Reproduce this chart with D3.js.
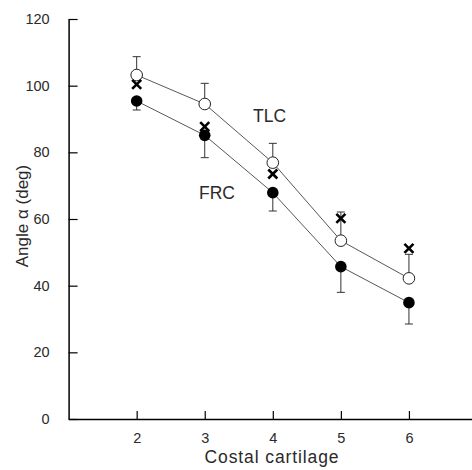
<!DOCTYPE html>
<html><head><meta charset="utf-8">
<script src="https://cdn.jsdelivr.net/npm/d3@7"></script>
<style>body{margin:0;background:#fff}svg{display:block}text{font-family:"Liberation Sans",Arial,sans-serif;fill:#2a2a2a;font-weight:normal}</style>
</head><body><svg id="c" width="472" height="470"></svg>
<script>
const cartilage = [2, 3, 4, 5, 6];
const tlc = [103.2, 94.5, 76.9, 53.5, 42.2];
const tlcErr = [5.5, 6.2, 5.8, 8.6, 7.2];
const frc = [95.4, 85.1, 67.9, 45.7, 34.9];
const frcErr = [2.7, 6.7, 5.5, 7.7, 6.4];
const crosses = [100.4, 87.7, 73.5, 60.2, 51.2];
const yTicks = [0, 20, 40, 60, 80, 100, 120];
const xTicks = [2, 3, 4, 5, 6];

const svg = d3.select("#c");
const x = d3.scaleLinear().domain([1, 7]).range([68.6, 477]);
const y = d3.scaleLinear().domain([0, 120]).range([419, 19]);

// axes
const ya = svg.append("g").attr("transform", `translate(${x(1)},0)`)
  .call(d3.axisLeft(y).tickValues(yTicks).tickFormat(d3.format("d")).tickSizeInner(-9).tickSizeOuter(0).tickPadding(19));
ya.select(".domain").attr("stroke", "#000").attr("stroke-width", 1.5);
ya.selectAll(".tick line").attr("stroke", "#000").attr("stroke-width", 1.2);
ya.selectAll("text").style("font-size", "14.5px");

const xa = svg.append("g").attr("transform", `translate(0,${y(0)})`)
  .call(d3.axisBottom(x).tickValues(xTicks).tickFormat(d3.format("d")).tickSizeInner(-8).tickSizeOuter(0).tickPadding(14));
xa.select(".domain").attr("stroke", "#000").attr("stroke-width", 1.5);
xa.selectAll(".tick line").attr("stroke", "#000").attr("stroke-width", 1.2);
xa.selectAll("text").style("font-size", "14.5px");

svg.append("text").attr("x", 272).attr("y", 463).attr("text-anchor", "middle")
  .style("font-size", "17.5px").style("letter-spacing", "0.9px").text("Costal cartilage");
svg.append("text").attr("transform", `translate(28,216) rotate(-90)`).attr("text-anchor", "middle")
  .style("font-size", "17px").text("Angle α (deg)");

const line = d3.line().x((d, i) => x(cartilage[i])).y(d => y(d));
svg.append("path").datum(tlc).attr("d", line).attr("fill", "none").attr("stroke", "#444").attr("stroke-width", 0.9);
svg.append("path").datum(frc).attr("d", line).attr("fill", "none").attr("stroke", "#444").attr("stroke-width", 0.9);

// error bars
function errBars(vals, errs, dir) {
  const g = svg.append("g").attr("stroke", "#333").attr("stroke-width", 1);
  vals.forEach((v, i) => {
    const cx = x(cartilage[i]);
    const end = v + dir * errs[i];
    g.append("line").attr("x1", cx).attr("x2", cx).attr("y1", y(v)).attr("y2", y(end));
    g.append("line").attr("x1", cx - 4).attr("x2", cx + 4).attr("y1", y(end)).attr("y2", y(end));
  });
}
errBars(tlc, tlcErr, 1);
errBars(frc, frcErr, -1);

svg.append("g").selectAll("circle").data(frc).join("circle")
  .attr("cx", (d, i) => x(cartilage[i])).attr("cy", d => y(d)).attr("r", 5.8).attr("fill", "#000");
svg.append("g").selectAll("circle").data(tlc).join("circle")
  .attr("cx", (d, i) => x(cartilage[i])).attr("cy", d => y(d)).attr("r", 5.8)
  .attr("fill", "#fff").attr("stroke", "#222").attr("stroke-width", 1);

svg.append("g").selectAll("path").data(crosses).join("path")
  .attr("transform", (d, i) => `translate(${x(cartilage[i])},${y(d)})`)
  .attr("d", d3.symbol(d3.symbolX, 55)).attr("fill", "none").attr("stroke", "#000").attr("stroke-width", 2.6);

svg.append("text").attr("x", 253).attr("y", 121.5).style("font-size", "17.5px").text("TLC");
svg.append("text").attr("x", 199).attr("y", 199).style("font-size", "17.5px").text("FRC");
</script></body></html>
